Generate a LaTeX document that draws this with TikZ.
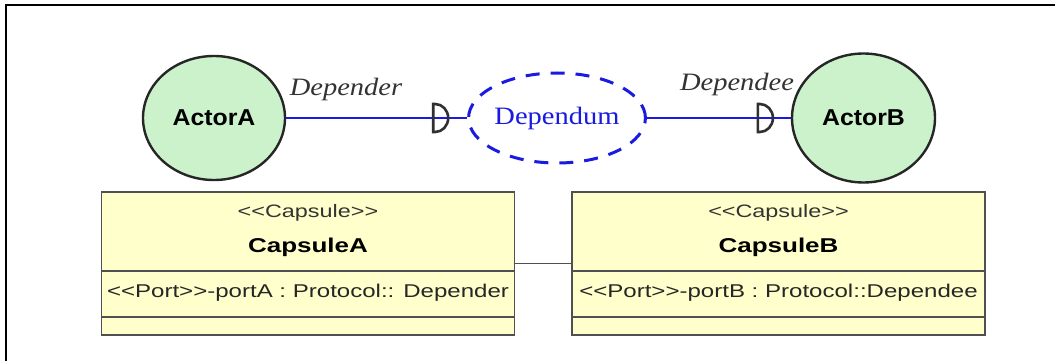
\documentclass[tikz,border=0pt]{standalone}
\usepackage{fontspec}
\newfontfamily\actorfont[FakeStretch=1.08]{Liberation Sans}
\newfontfamily\boxfont[FakeStretch=1.3]{Liberation Sans}
\newfontfamily\rolefont[FakeStretch=1.14]{Liberation Serif}
\usetikzlibrary{shapes.geometric,decorations.markings}
\definecolor{actorfill}{HTML}{CCF2CC}
\definecolor{capfill}{HTML}{FFFFCC}
\definecolor{linkblue}{HTML}{1A1AE0}
\definecolor{capedge}{HTML}{505050}
\definecolor{forkgray}{HTML}{303030}
\newcommand{\guil}[1]{#1\kern0pt#1}
\tikzset{
  actor/.style={ellipse, draw=black!85, line width=2.4pt, fill=actorfill,
    inner sep=0pt, font=\actorfont\bfseries\fontsize{23}{26}\selectfont},
  goal/.style={ellipse, draw=linkblue, line width=3pt, dash pattern=on 14pt off 11pt,
    inner sep=0pt, text=linkblue, font=\rolefont\fontsize{25}{28}\selectfont},
  role/.style={font=\rolefont\itshape\fontsize{25}{28}\selectfont, text=black!80},
  capsule/.style={rectangle, draw=capedge, line width=1.6pt, fill=capfill,
    minimum width=413pt, minimum height=143pt, inner sep=0pt},
  stereo/.style={font=\boxfont\fontsize{18}{20}\selectfont, text=black!80},
  capname/.style={font=\boxfont\bfseries\fontsize{20}{22}\selectfont},
  portline/.style={font=\boxfont\fontsize{18.5}{20}\selectfont, text=black!85},
  divider/.style={draw=capedge, line width=1.6pt},
  link/.style={draw=linkblue, line width=2pt},
  dfork/.style={draw=forkgray, line width=2.6pt},
  forkat/.style={postaction={decorate}, decoration={markings,
    mark=at position #1 with {\draw[dfork] (0,-14) -- (0,14) -- (2,14)
      arc[start angle=90, end angle=-90, x radius=13, y radius=14] -- cycle;}}}
}
\begin{document}
\begin{tikzpicture}[x=1pt, y=-1pt]
  \useasboundingbox (0,0) rectangle (1055,361);
  \fill[white] (0,0) rectangle (1055,361);
  % frame edges
  \draw[line width=2pt, black] (6,361) -- (6,5) -- (1055,5);

  % actors and the dependum
  \node[actor, minimum width=142pt, minimum height=124pt] (actorA) at (214,118) {ActorA};
  \node[actor, minimum width=143pt, minimum height=129pt] (actorB) at (863.5,118) {ActorB};
  \node[goal, minimum width=168pt, minimum height=90pt] (dependum) at (557,118) {Dependum};

  % dependency links with their D markers
  \draw[link, forkat=147pt] (actorA) -- (dependum);
  \draw[link, forkat=111pt] (dependum) -- (actorB);

  \node[role] (depender) at (346,89) {Depender};
  \node[role] (dependee) at (737,84) {Dependee};

  % capsules
  \node[capsule] (capA) at (308,263.5) {};
  \node[capsule] (capB) at (778.5,263.5) {};
  \draw[divider] (capA.west |- 0,271) -- (capA.east |- 0,271);
  \draw[divider] (capA.west |- 0,317) -- (capA.east |- 0,317);
  \draw[divider] (capB.west |- 0,271) -- (capB.east |- 0,271);
  \draw[divider] (capB.west |- 0,317) -- (capB.east |- 0,317);

  \node[stereo] (capAst) at (308,213) {\guil{<}Capsule\guil{>}};
  \node[capname] (capAname) at (308,247) {CapsuleA};
  \node[portline] (capAport) at (308,293) {\guil{<}Port\guil{>}-portA : Protocol:: Depender};

  \node[stereo] (capBst) at (778.5,213) {\guil{<}Capsule\guil{>}};
  \node[capname] (capBname) at (778.5,247) {CapsuleB};
  \node[portline] (capBport) at (778.5,293) {\guil{<}Port\guil{>}-portB : Protocol::Dependee};

  % capsule connector
  \draw[draw=capedge, line width=1.2pt] (capA) -- (capB);
\end{tikzpicture}
\end{document}
